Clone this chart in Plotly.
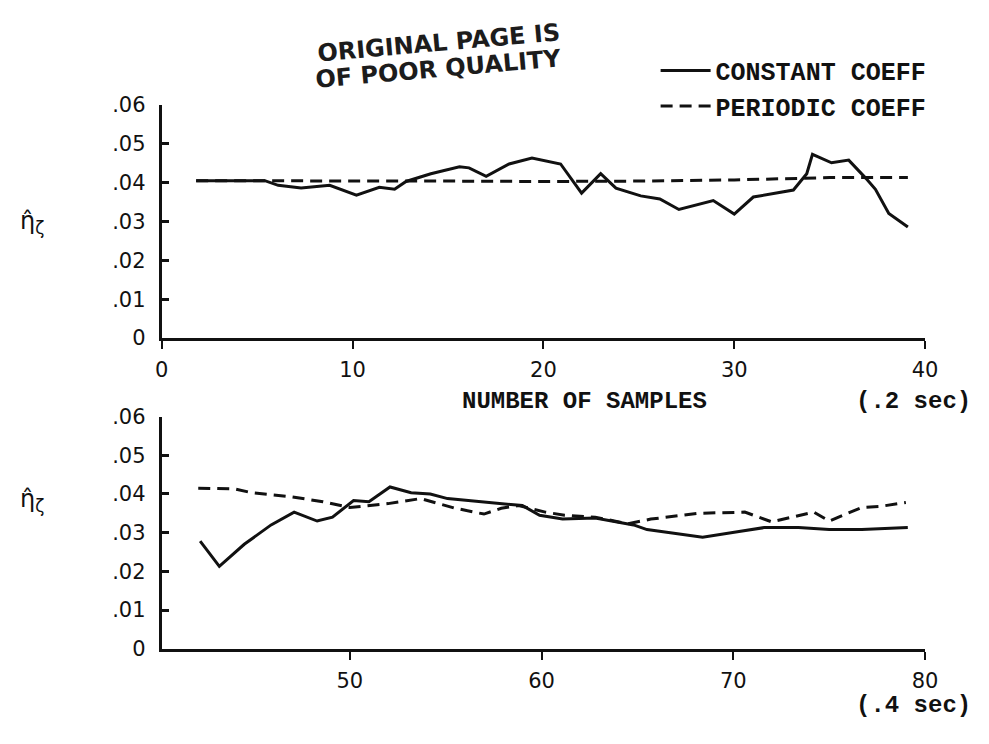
import plotly.graph_objects as go

# Estimated damping ratio vs. number of samples, first 40 samples (0.2 s)
top_const_x = [1.8, 5.4, 6.1, 7.3, 8.8, 10.2, 11.4, 12.2, 12.8, 14.1, 15.6, 16.1, 17.0,
               18.2, 19.4, 20.9, 22.0, 23.0, 23.8, 25.1, 26.1, 27.1, 28.9, 30.0, 31.0,
               33.1, 33.8, 34.1, 35.1, 36.0, 36.9, 37.4, 38.1, 39.1]
top_const_y = [0.0405, 0.0405, 0.0393, 0.0386, 0.0393, 0.0368, 0.0388, 0.0383, 0.0403,
               0.0423, 0.0441, 0.0438, 0.0416, 0.0448, 0.0463, 0.0448, 0.0373, 0.0423,
               0.0386, 0.0366, 0.0358, 0.0331, 0.0354, 0.0319, 0.0363, 0.0381, 0.0423,
               0.0473, 0.0451, 0.0458, 0.0411, 0.0383, 0.0321, 0.0286]
top_per_x = [1.8, 5.0, 10.0, 15.0, 20.0, 25.0, 30.0, 33.0, 35.0, 39.1]
top_per_y = [0.0405, 0.0405, 0.0404, 0.0404, 0.0403, 0.0404, 0.0407, 0.0410, 0.0413, 0.0413]

# Samples 40-80 (0.4 s)
bot_const_x = [42.2, 43.2, 44.5, 45.9, 47.1, 48.3, 49.1, 50.2, 51.0, 52.1, 53.2, 54.2,
               55.1, 56.8, 57.8, 59.0, 59.9, 61.1, 62.8, 64.8, 65.5, 67.9, 68.4, 70.3,
               71.6, 73.4, 75.0, 76.7, 79.1]
bot_const_y = [0.0278, 0.0213, 0.0270, 0.0320, 0.0353, 0.0330, 0.0340, 0.0383, 0.0380,
               0.0418, 0.0403, 0.0400, 0.0388, 0.0380, 0.0375, 0.0370, 0.0345, 0.0335,
               0.0338, 0.0320, 0.0308, 0.0290, 0.0288, 0.0303, 0.0313, 0.0313, 0.0308,
               0.0308, 0.0313]
bot_per_x = [42.1, 44.0, 44.9, 46.9, 48.6, 50.0, 52.0, 53.7, 55.5, 57.0, 57.9, 58.8,
             60.2, 61.2, 62.8, 64.5, 65.7, 68.2, 70.6, 72.0, 74.2, 75.0, 76.7, 77.7, 79.0]
bot_per_y = [0.0415, 0.0413, 0.0403, 0.0393, 0.0380, 0.0365, 0.0375, 0.0388, 0.0363,
             0.0348, 0.0363, 0.0370, 0.0353, 0.0345, 0.0340, 0.0323, 0.0335, 0.0350,
             0.0353, 0.0328, 0.0353, 0.0330, 0.0365, 0.0368, 0.0378]

y_ticks = [0, 0.01, 0.02, 0.03, 0.04, 0.05, 0.06]
y_tick_labels = ["0", ".01", ".02", ".03", ".04", ".05", ".06"]
top_x_ticks = [0, 10, 20, 30, 40]
bot_x_ticks = [50, 60, 70, 80]

W, H = 989, 744
INK = "#111111"
SANS = "DejaVu Sans, Arial, sans-serif"
MONO = "Liberation Mono, Courier New, monospace"


def px(x):
    return x / W


def py(y):
    return 1 - y / H


solid = dict(color=INK, width=3)
dashed = dict(color=INK, width=3, dash="12px,7px")

fig = go.Figure()
fig.add_trace(go.Scatter(x=top_const_x, y=top_const_y, mode="lines", line=solid,
                         name="CONSTANT COEFF", legendgroup="c", xaxis="x", yaxis="y"))
fig.add_trace(go.Scatter(x=top_per_x, y=top_per_y, mode="lines", line=dashed,
                         name="PERIODIC COEFF", legendgroup="p", xaxis="x", yaxis="y"))
fig.add_trace(go.Scatter(x=bot_const_x, y=bot_const_y, mode="lines", line=solid,
                         name="CONSTANT COEFF", legendgroup="c", showlegend=False,
                         xaxis="x2", yaxis="y2"))
fig.add_trace(go.Scatter(x=bot_per_x, y=bot_per_y, mode="lines", line=dashed,
                         name="PERIODIC COEFF", legendgroup="p", showlegend=False,
                         xaxis="x2", yaxis="y2"))

tick_font = dict(family=SANS, size=21, color=INK)
x_dom = [px(158), px(937)]

common_x = dict(ticks="outside", ticklen=8, tickwidth=2, tickcolor=INK,
                showline=True, linewidth=3, linecolor=INK, showgrid=False,
                zeroline=False, tickfont=tick_font, fixedrange=True)
common_y = dict(range=[0, 0.06], tickvals=y_ticks, ticktext=y_tick_labels,
                ticks="inside", ticklen=7, tickwidth=3, tickcolor=INK,
                showline=True, linewidth=3, linecolor=INK, showgrid=False,
                zeroline=False, tickfont=tick_font, ticklabelstandoff=9,
                fixedrange=True)

fig.update_layout(
    width=W, height=H,
    margin=dict(l=0, r=0, t=0, b=0),
    paper_bgcolor="white", plot_bgcolor="white",
    xaxis=dict(domain=x_dom, range=[0, 40], tickvals=top_x_ticks, anchor="y",
               ticklabelstandoff=3, **common_x),
    yaxis=dict(domain=[py(337), py(96)], anchor="x", **common_y),
    xaxis2=dict(domain=x_dom, range=[40.2, 80], tickvals=bot_x_ticks, anchor="y2",
                ticklabelstandoff=3, **common_x),
    yaxis2=dict(domain=[py(658), py(418)], anchor="x2", **common_y),
    legend=dict(x=px(662), y=py(37), xanchor="left", yanchor="top",
                font=dict(family=MONO, size=25, color=INK, weight="bold"),
                bgcolor="rgba(0,0,0,0)", itemwidth=50, tracegroupgap=0),
    showlegend=True,
)

ann = []
mono_bold = dict(family=MONO, size=24, color=INK, weight="bold")
# axis title and time spans
ann.append(dict(x=px(589), y=py(402), text="NUMBER OF SAMPLES", font=mono_bold))
ann.append(dict(x=px(986), y=py(402), text="(.2 sec)", xanchor="right", font=mono_bold))
ann.append(dict(x=px(986), y=py(717), text="(.4 sec)", xanchor="right", font=mono_bold))
# y-axis symbol for both panels
for yc in (218, 505):
    ann.append(dict(x=px(26), y=py(yc), text="\u03b7\u0302<sub>\u03b6</sub>",
                    font=dict(family="DejaVu Sans", size=24, color=INK)))
# stamp
stamp_font = dict(family="DejaVu Sans, Arial, sans-serif", size=24, color="#1c1c1c",
                  weight="bold")
ann.append(dict(x=px(440), y=py(32), text="ORIGINAL PAGE IS", textangle=-5,
                font=stamp_font))
ann.append(dict(x=px(440), y=py(59), text="OF POOR QUALITY", textangle=-5,
                font=stamp_font))

for a in ann:
    a.update(xref="paper", yref="paper", showarrow=False)
    a.setdefault("xanchor", "center")
    a.setdefault("yanchor", "middle")
fig.update_layout(annotations=ann)

fig.write_html("out.html")
